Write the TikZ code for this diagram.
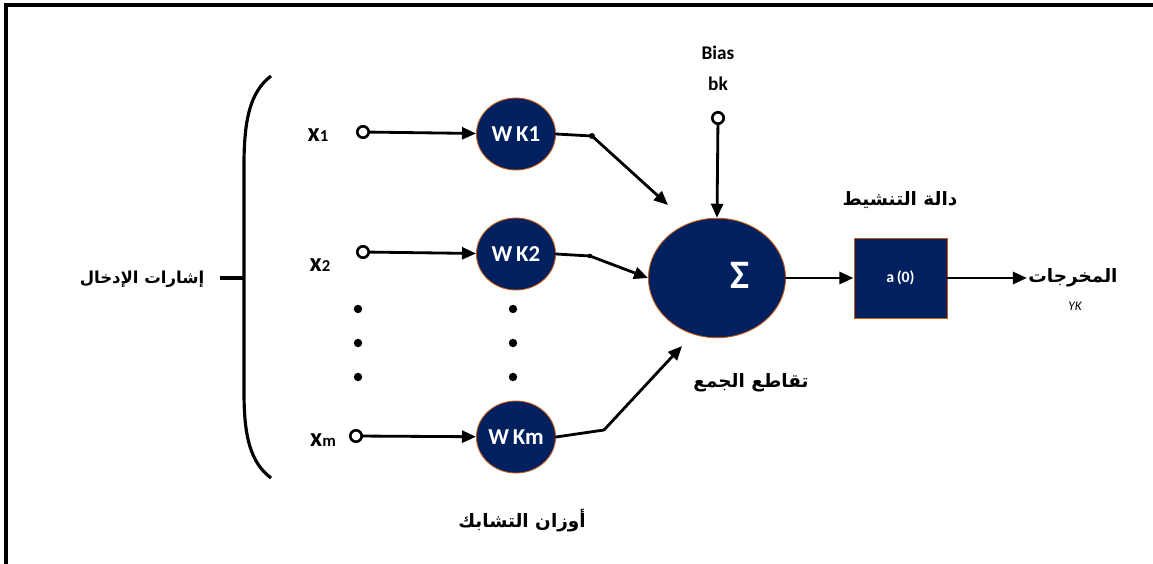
\documentclass[tikz,border=0pt]{standalone}
\usepackage{fontspec}
\setmainfont{Carlito}
\newfontfamily\arabicfont[Script=Arabic]{DejaVu Sans}
\TeXXeTstate=1
\usetikzlibrary{arrows.meta,shapes.geometric}

\definecolor{navy}{RGB}{0,32,96}
\definecolor{rim}{RGB}{197,90,17}

\tikzset{
  wire/.style={line width=1.6pt, line cap=round, line join=round},
  arr/.style={wire, -{Triangle[length=8pt,width=6.8pt]}},
  terminal/.style={circle, draw, line width=1.5pt, fill=white, inner sep=0pt, minimum size=6.5pt},
  weight/.style={ellipse, fill=navy, draw=rim, line width=0.5pt, inner sep=0pt,
                 minimum width=45pt, minimum height=41pt, text=white,
                 font=\bfseries\fontsize{13}{14}\selectfont},
  dotn/.style={circle, fill=black, inner sep=0pt, minimum size=4.8pt},
  joint/.style={circle, fill=black, inner sep=0pt, minimum size=3.4pt},
  lbl/.style={font=\bfseries\fontsize{11}{13}\selectfont, inner sep=1pt},
  xlbl/.style={inner sep=1pt, anchor=base, font=\bfseries},
  ar/.style={font=\arabicfont\bfseries\fontsize{10.5}{13}\selectfont, inner sep=1pt},
}

\newcommand{\xin}[1]{{\fontsize{15}{16}\selectfont x}{\fontsize{9.5}{10}\selectfont #1}}

\begin{document}
\begin{tikzpicture}[x=0.02cm, y=-0.02cm]
  \useasboundingbox (0,0) rectangle (1153,564);

  % frame (top and left edges)
  \draw[line width=2.2pt] (6,564) -- (6,5) -- (1153,5);

  % input bracket
  \draw[line width=1.8pt] (271,76) .. controls (250,92) and (244,120) .. (244,165)
        -- (244,392) .. controls (244,436) and (250,462) .. (271,478);
  \coordinate (brk) at (244,278);
  \coordinate (tick) at (220,278);
  \draw[line width=1.8pt] (brk) -- (tick);
  \node[ar, font=\arabicfont\bfseries\fontsize{9.4}{12}\selectfont] (inlbl) at (142,279) {\beginR إشارات الإدخال\endR};

  % input labels and terminals
  \node[xlbl] (x1) at (318,142) {\xin{1}};
  \node[xlbl] (x2) at (320,272) {\xin{2}};
  \node[xlbl] (xm) at (323,446) {\xin{m}};
  \node[terminal] (t1) at (363,132) {};
  \node[terminal] (t2) at (363,252) {};
  \node[terminal] (tm) at (356,436) {};

  % weights
  \node[weight] (w1) at (516,134) {W\,K1};
  \node[weight] (w2) at (516,254) {W\,K2};
  \node[weight] (wm) at (516,437) {W\,Km};

  \draw[arr] (t1) -- (w1);
  \draw[arr] (t2) -- (w2);
  \draw[arr] (tm) -- (wm);

  % ellipsis dots
  \node[dotn] (d1) at (358,309) {};
  \node[dotn] (d2) at (358,343) {};
  \node[dotn] (d3) at (358,377) {};
  \node[dotn] (d4) at (513,309) {};
  \node[dotn] (d5) at (513,343) {};
  \node[dotn] (d6) at (513,377) {};

  % summing junction
  \node[ellipse, fill=navy, draw=rim, line width=0.5pt, minimum width=78pt, minimum height=68pt, inner sep=0pt]
        (sum) at (717,278) {};
  \node[text=white, font=\bfseries\fontsize{23}{24}\selectfont, inner sep=0pt] (sigma) at (740,275) {Σ};

  % weighted inputs to the sum
  \coordinate (j1) at (592,136);
  \coordinate (j2) at (590,256);
  \coordinate (jm) at (604,430);
  \coordinate (e1) at (668,205);
  \coordinate (em) at (682,346);
  \draw[wire] (w1.east) -- (j1);
  \draw[arr] (j1) -- (e1);
  \node[joint] (jd1) at (j1) {};
  \draw[wire] (w2.east) -- (j2);
  \draw[arr] (j2) -- (sum.west);
  \node[joint, minimum size=2.6pt] (jd2) at (j2) {};
  \draw[wire] (wm.east) -- (jm);
  \draw[arr] (jm) -- (em);

  % bias
  \node[lbl] (bias) at (718,53) {Bias};
  \node[lbl] (bk) at (718,84) {bk};
  \node[terminal] (tb) at (718,118) {};
  \draw[arr] (tb) -- (sum.north);

  % activation
  \node[rectangle, fill=navy, draw=rim, line width=0.5pt, minimum width=53pt, minimum height=45.5pt,
        text=white, font=\bfseries\fontsize{9}{10}\selectfont] (act) at (900.5,278) {a\,(0)};
  \draw[arr] (sum.east) -- (act.west);
  \coordinate (out) at (1027,278);
  \draw[arr] (act.east) -- (out);

  % captions
  \node[ar] (actlbl) at (900,200) {\beginR دالة التنشيط\endR};
  \node[ar] (outlbl) at (1073,278) {\beginR المخرجات\endR};
  \node[font=\itshape\fontsize{7.5}{8}\selectfont, inner sep=0pt] (yk) at (1075,306) {YK};
  \node[ar] (sumlbl) at (751,383) {\beginR تقاطع الجمع\endR};
  \node[ar] (wlbl) at (522,521) {\beginR أوزان التشابك\endR};
\end{tikzpicture}
\end{document}
